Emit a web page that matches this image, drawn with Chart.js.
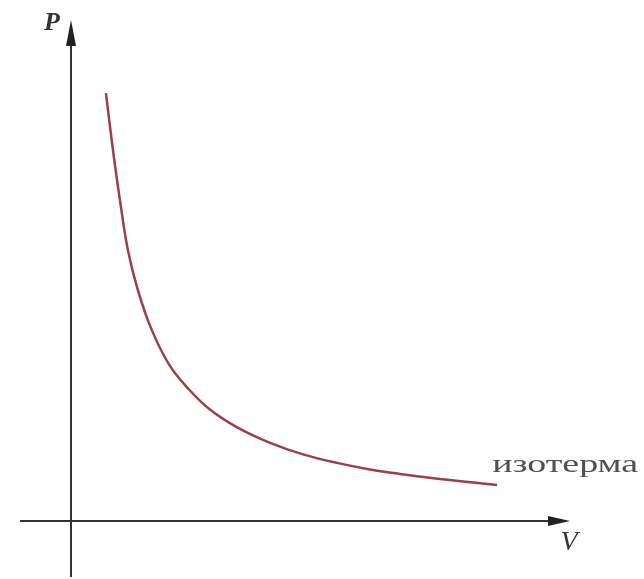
<!DOCTYPE html>
<html>
<head>
<meta charset="utf-8">
<script src="https://cdn.jsdelivr.net/npm/chart.js@4.4.0/dist/chart.umd.min.js"></script>
<style>
  html, body { margin: 0; padding: 0; background: #fff; }
  #wrap { width: 644px; height: 579px; position: relative; }
</style>
</head>
<body>
<div id="wrap"><canvas id="myChart"></canvas></div>
<script>
// isotherm (arbitrary units)
const volume = [0.70, 0.84, 0.98, 1.14, 1.34, 1.62, 1.98, 2.38, 2.79, 3.33, 3.99, 4.65, 5.33, 5.99, 6.59, 7.39, 8.54];
const pressure = [8.54, 7.41, 6.41, 5.41, 4.61, 3.81, 3.10, 2.61, 2.22, 1.87, 1.56, 1.33, 1.16, 1.03, 0.94, 0.84, 0.72];
const curveLabel = 'изотерма';
const axisLabels = ['P', 'V'];

const axesPlugin = {
  id: 'arrowAxes',
  beforeDatasetsDraw(chart) {
    const ctx = chart.ctx;
    const x0 = chart.scales.x.getPixelForValue(0);
    const y0 = chart.scales.y.getPixelForValue(0);
    const top = chart.chartArea.top;
    const right = chart.chartArea.right;
    ctx.save();
    ctx.strokeStyle = '#333';
    ctx.fillStyle = '#222';
    ctx.lineWidth = 2;
    // horizontal
    ctx.beginPath();
    ctx.moveTo(20, y0);
    ctx.lineTo(right - 10, y0);
    ctx.stroke();
    ctx.beginPath();
    ctx.moveTo(right, y0);
    ctx.lineTo(right - 22, y0 - 5);
    ctx.lineTo(right - 22, y0 + 5);
    ctx.closePath();
    ctx.fill();
    // vertical
    ctx.beginPath();
    ctx.moveTo(x0, 577);
    ctx.lineTo(x0, top + 10);
    ctx.stroke();
    ctx.beginPath();
    ctx.moveTo(x0, top);
    ctx.lineTo(x0 - 5, top + 26);
    ctx.lineTo(x0 + 5, top + 26);
    ctx.closePath();
    ctx.fill();
    // axis letters
    ctx.fillStyle = '#333';
    ctx.font = 'italic bold 26px "Liberation Serif", serif';
    ctx.textAlign = 'center';
    ctx.textBaseline = 'middle';
    ctx.fillText(axisLabels[0], x0 - 19, top + 3);
    ctx.font = 'italic 28px "Liberation Serif", serif';
    ctx.fillText(axisLabels[1], right - 1, y0 + 22);
    ctx.restore();
  },
  afterDatasetsDraw(chart) {
    const ctx = chart.ctx;
    const meta = chart.getDatasetMeta(0);
    const last = meta.data[meta.data.length - 1];
    ctx.save();
    ctx.fillStyle = '#505050';
    ctx.font = '25px "Liberation Serif", serif';
    ctx.textBaseline = 'alphabetic';
    const w = ctx.measureText(curveLabel).width;
    ctx.translate(last.x - 5, last.y - 13);
    ctx.scale(146 / w, 1);
    ctx.fillText(curveLabel, 0, 0);
    ctx.restore();
  }
};

new Chart(document.getElementById('myChart').getContext('2d'), {
  type: 'scatter',
  data: {
    datasets: [{
      data: volume.map((v, i) => ({ x: v, y: pressure[i] })),
      showLine: true,
      borderColor: '#9a4048',
      borderWidth: 2.5,
      pointRadius: 0,
      tension: 0.4
    }]
  },
  options: {
    responsive: true,
    maintainAspectRatio: false,
    animation: false,
    layout: { padding: { left: 71, right: 74, top: 20, bottom: 58 } },
    plugins: { legend: { display: false }, tooltip: { enabled: false } },
    scales: {
      x: { type: 'linear', min: 0, max: 10, display: false },
      y: { type: 'linear', min: 0, max: 10, display: false }
    }
  },
  plugins: [axesPlugin]
});
</script>
</body>
</html>
